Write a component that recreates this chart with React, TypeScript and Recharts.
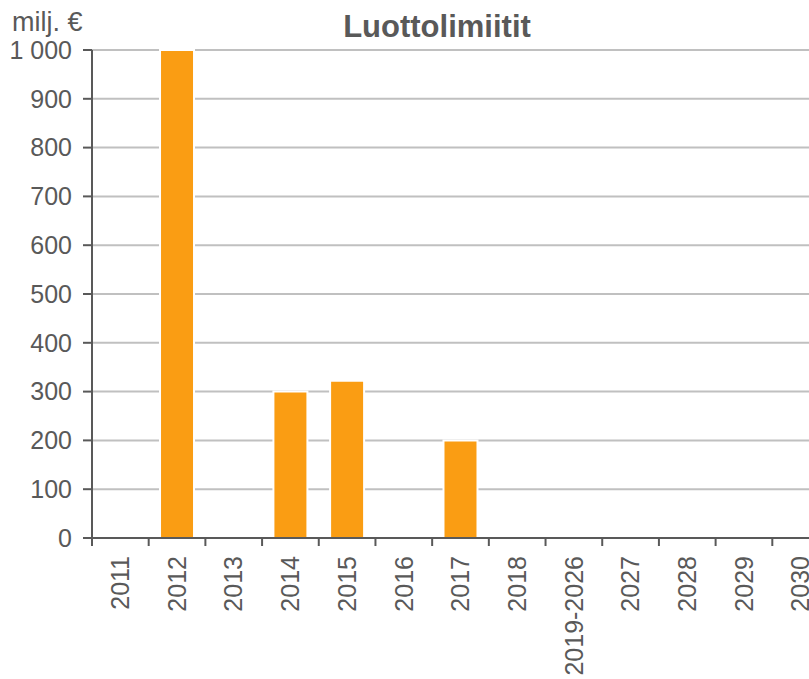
import React from 'react';
import { BarChart, Bar, XAxis, YAxis, CartesianGrid } from 'recharts';

const categories = ['2011', '2012', '2013', '2014', '2015', '2016', '2017', '2018', '2019-2026', '2027', '2028', '2029', '2030'];
const limitValues = [0, 1000, 0, 300, 322, 0, 200, 0, 0, 0, 0, 0, 0];
const yTicks = [0, 100, 200, 300, 400, 500, 600, 700, 800, 900, 1000];
const titleText = 'Luottolimiitit';
const unitText = 'milj. €';

const data = categories.map((c, i) => ({ name: c, value: limitValues[i] }));

const FONT = '"Liberation Sans", Arial, sans-serif';
const TEXT = '#595959';

const CHART_W = 840;
const MARGIN = { top: 50, right: 11, left: 0, bottom: 0 };
const Y_W = 92;
const TICK_SIZE = 8;
const TICK_MARGIN = 10;
const BAND = (CHART_W - MARGIN.left - MARGIN.right - Y_W) / categories.length;

const fmt = (v: number) => (v >= 1000 ? v.toLocaleString('en-US').replace(/,/g, ' ') : String(v));

const XTick = (props: any) => {
  const { x, y, payload, index } = props;
  const axisY = y - TICK_SIZE - TICK_MARGIN;
  const left = x - BAND / 2;
  const right = x + BAND / 2;
  return (
    <g>
      <line x1={left} y1={axisY} x2={left} y2={axisY + TICK_SIZE} stroke={TEXT} strokeWidth={2} />
      {index === categories.length - 1 ? (
        <line x1={right} y1={axisY} x2={right} y2={axisY + TICK_SIZE} stroke={TEXT} strokeWidth={2} />
      ) : null}
      <text
        x={x}
        y={y}
        dy="0.35em"
        textAnchor="end"
        transform={`rotate(-90, ${x}, ${y})`}
        fill={TEXT}
        fontSize={25}
        fontFamily={FONT}
      >
        {payload.value}
      </text>
    </g>
  );
};

export default function App() {
  return (
    <div style={{ position: 'absolute', left: 0, top: 0, width: 809, height: 679, overflow: 'hidden', background: '#fff' }}>
      <BarChart
        width={CHART_W}
        height={679}
        data={data}
        margin={MARGIN}
        barCategoryGap="20%"
      >
        <CartesianGrid horizontal vertical={false} stroke="#C0C0C0" strokeWidth={2} />
        <XAxis
          dataKey="name"
          interval={0}
          height={141}
          tick={<XTick />}
          tickSize={TICK_SIZE}
          tickMargin={TICK_MARGIN}
          axisLine={{ stroke: TEXT, strokeWidth: 2 }}
          tickLine={false}
          scale="band"
        />
        <YAxis
          width={Y_W}
          domain={[0, 1000]}
          ticks={yTicks}
          interval={0}
          tickFormatter={fmt}
          tickSize={9}
          tickMargin={11}
          axisLine={{ stroke: TEXT, strokeWidth: 2 }}
          tickLine={{ stroke: TEXT, strokeWidth: 2 }}
          tick={{ fill: TEXT, fontSize: 25, fontFamily: FONT }}
        />
        <Bar dataKey="value" fill="#FA9D13" stroke="#FFFFFF" strokeWidth={2} isAnimationActive={false} />
      </BarChart>
      <svg width={809} height={679} style={{ position: 'absolute', left: 0, top: 0, pointerEvents: 'none' }}>
        <text x={437} y={37} textAnchor="middle" fontSize={31} fontWeight="bold" fill={TEXT} fontFamily={FONT}>
          {titleText}
        </text>
        <text x={12} y={31} textAnchor="start" fontSize={27} fill={TEXT} fontFamily={FONT}>
          {unitText}
        </text>
      </svg>
    </div>
  );
}
